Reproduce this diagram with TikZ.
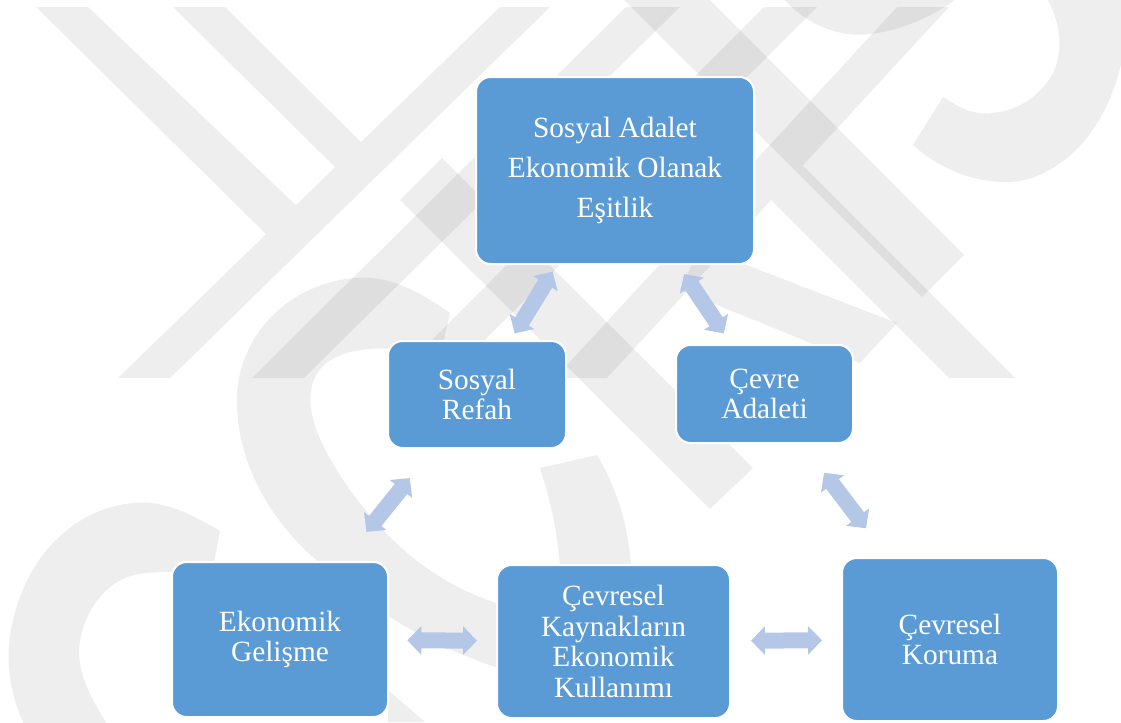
\documentclass[tikz,border=0pt]{standalone}
\usepackage{fontspec}
\setmainfont{Liberation Serif}
\usetikzlibrary{arrows.meta}
\definecolor{boxblue}{HTML}{5B9BD5}
\definecolor{arrowblue}{HTML}{B4C7E7}
\begin{document}
\begin{tikzpicture}[x=0.75pt,y=-0.75pt,
  box/.style={rectangle, rounded corners=11pt, fill=boxblue, draw=white,
    line width=1.5pt, text=white, align=center, inner sep=0pt, outer sep=0pt,
    font=\fontsize{22}{23}\selectfont},
  wm/.style={fill=black, fill opacity=0.065, draw=none},
  dbl/.style={draw=arrowblue, line width=12pt,
    {Triangle[width=21pt,length=10.5pt]}-{Triangle[width=21pt,length=10.5pt]}}]
\useasboundingbox (0,0) rectangle (1121,722);
% ---- watermark ----
\begin{scope}
\clip (0,0) rectangle (1121,722);
% left Y
\fill[wm] (500,7) -- (550,7) -- (170,378) -- (118,378) -- cycle
  (36,7) -- (88,7) -- (302,211) -- (272,240) -- cycle
  (173,7) -- (225,7) -- (366,147) -- (340,172) -- cycle;
% bands going down-left
\fill[wm] (626,7) -- (680,7) -- (304,378) -- (252,378) -- cycle;
\fill[wm] (764,7) -- (817,7) -- (447,378) -- (394,378) -- cycle;
\fill[wm] (897,7) -- (949,7) -- (607,378) -- (555,378) -- cycle
  (771,200) -- (803,166) -- (1015,378) -- (949,378) -- cycle;
% bands going down-right
\fill[wm] (619,-5) -- (705,-5) -- (964,255) -- (922,297) -- cycle;
\fill[wm] (400,200) -- (442,158) -- (753,468) -- (710,509) -- cycle;
\fill[wm] (700,247) -- (897,323) -- (860,363) -- (680,290) -- cycle;
% arcs
\fill[wm] (450,313) .. controls (410,285) and (380,272) .. (340,280)
  .. controls (280,292) and (240,340) .. (237,394)
  .. controls (235,450) and (260,510) .. (314,558)
  .. controls (370,610) and (430,648) .. (520,675)
  -- (520,610) .. controls (440,590) and (390,545) .. (350,490)
  .. controls (315,440) and (300,400) .. (318,372)
  .. controls (335,347) and (390,340) .. (439,361) -- cycle;
\fill[wm] (540,468) .. controls (550,500) and (558,530) .. (561,580)
  -- (632,580) .. controls (630,530) and (618,490) .. (597,455) -- cycle;
\fill[wm] (220,531) .. controls (185,510) and (160,500) .. (132,503)
  .. controls (70,510) and (25,560) .. (12,625)
  .. controls (2,670) and (15,710) .. (32,740)
  -- (118,740) .. controls (90,700) and (75,670) .. (80,640)
  .. controls (88,600) and (115,575) .. (146,573)
  .. controls (170,571) and (190,572) .. (211,578) -- cycle;
\fill[wm] (388,690) -- (425,722) -- (388,722) -- cycle;
\fill[wm] (780,-5) .. controls (805,25) and (840,38) .. (870,34)
  .. controls (905,30) and (935,15) .. (962,-5) -- cycle;
\fill[wm] (943,97) .. controls (965,112) and (980,115) .. (993,113)
  .. controls (1020,110) and (1040,95) .. (1052,75)
  .. controls (1065,50) and (1060,20) .. (1045,-5)
  -- (1130,-5) -- (1125,40)
  .. controls (1120,90) and (1095,140) .. (1060,163)
  .. controls (1040,178) and (1020,183) .. (1000,182)
  .. controls (965,180) and (935,165) .. (913,145) -- cycle;
\end{scope}
% ---- boxes ----
\node[box, minimum width=208.5pt, minimum height=140.25pt,
  font=\fontsize{22}{30}\selectfont] (adalet) at (615,170.5)
  {Sosyal Adalet\\Ekonomik Olanak\\Eşitlik};
\node[box, minimum width=133.5pt, minimum height=80.25pt] (refah) at (477,394.5)
  {Sosyal\\Refah};
\node[box, minimum width=132.75pt, minimum height=73.5pt] (cadalet) at (764.5,394)
  {Çevre\\Adaleti};
\node[box, minimum width=162pt, minimum height=116.25pt] (ekon) at (280,639.5)
  {Ekonomik\\Gelişme};
\node[box, minimum width=174.75pt, minimum height=114.75pt] (kaynak) at (613.5,641.5)
  {Çevresel\\Kaynakların\\Ekonomik\\Kullanımı};
\node[box, minimum width=162pt, minimum height=122.25pt] (koruma) at (950,639.5)
  {Çevresel\\Koruma};
% ---- arrows ----
\draw[dbl, shorten <=6.75pt, shorten >=6.75pt] (refah) -- (adalet);
\draw[dbl, shorten <=10.5pt, shorten >=9pt] (cadalet) -- (adalet);
\draw[dbl, shorten <=29pt, shorten >=29pt] (refah) -- (ekon);
\draw[dbl, shorten <=28pt, shorten >=28pt] (cadalet) -- (koruma);
\draw[dbl, shorten <=14.5pt, shorten >=15pt] (ekon) -- (kaynak);
\draw[dbl, shorten <=15.75pt, shorten >=15pt] (kaynak) -- (koruma);
\end{tikzpicture}
\end{document}
